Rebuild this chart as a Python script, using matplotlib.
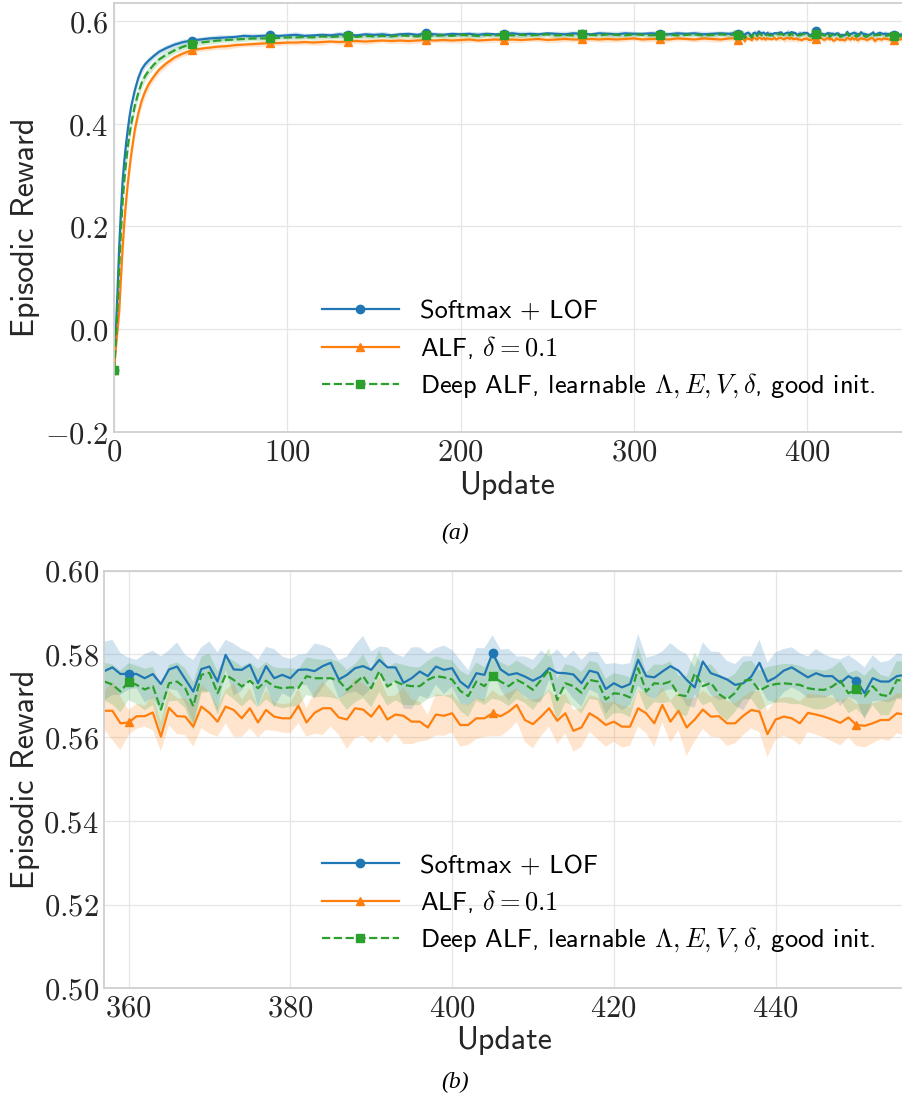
import numpy as np
import matplotlib.pyplot as plt

plt.rcParams['mathtext.fontset'] = 'cm'
plt.rcParams['axes.unicode_minus'] = True

# ---- data ----
# coarse readings for the rise + plateau, then every update in the zoomed window
early_updates = [0, 1, 2, 3, 4, 5, 6, 7, 8, 9, 10, 12, 14, 16, 18, 20, 23, 26, 30, 35, 40, 45,
                 50, 55, 60, 65, 70, 75, 80, 85, 90, 95, 100, 105, 110, 115, 120, 125, 130, 135,
                 140, 145, 150, 155, 160, 165, 170, 175, 180, 185, 190, 195, 200, 205, 210, 215,
                 220, 225, 230, 235, 240, 245, 250, 255, 260, 265, 270, 275, 280, 285, 290, 295,
                 300, 305, 310, 315, 320, 325, 330, 335, 340, 345, 350, 355]

softmax_early = [-0.080, -0.010, 0.070, 0.160, 0.230, 0.290, 0.330, 0.362, 0.390, 0.415, 0.435,
                 0.465, 0.489, 0.506, 0.516, 0.523, 0.532, 0.540, 0.547, 0.554, 0.559, 0.562,
                 0.564, 0.566, 0.567, 0.568, 0.569, 0.571, 0.570, 0.571, 0.572, 0.571,
                 0.572, 0.573, 0.571, 0.572, 0.573, 0.572, 0.574, 0.573, 0.572, 0.574,
                 0.573, 0.574, 0.572, 0.574, 0.575, 0.573, 0.576, 0.574, 0.573, 0.575,
                 0.574, 0.575, 0.573, 0.575, 0.574, 0.575, 0.576, 0.574, 0.575, 0.574,
                 0.576, 0.575, 0.574, 0.576, 0.575, 0.574, 0.576, 0.575, 0.574, 0.576,
                 0.575, 0.575, 0.576, 0.575, 0.574, 0.576, 0.575, 0.576, 0.574, 0.575,
                 0.576, 0.575]
alf_early = [-0.080, -0.040, 0.000, 0.035, 0.100, 0.160, 0.210, 0.250, 0.285, 0.315, 0.342,
             0.388, 0.420, 0.445, 0.463, 0.477, 0.492, 0.505, 0.517, 0.529, 0.537, 0.543,
             0.546, 0.548, 0.550, 0.551, 0.553, 0.554, 0.555, 0.556, 0.557, 0.557,
             0.558, 0.558, 0.559, 0.558, 0.559, 0.560, 0.559, 0.560, 0.561, 0.560,
             0.561, 0.562, 0.561, 0.562, 0.561, 0.562, 0.563, 0.562, 0.563, 0.562,
             0.563, 0.564, 0.562, 0.563, 0.564, 0.563, 0.564, 0.563, 0.564, 0.565,
             0.563, 0.564, 0.565, 0.564, 0.564, 0.565, 0.564, 0.565, 0.564, 0.565,
             0.566, 0.564, 0.565, 0.565, 0.564, 0.566, 0.565, 0.564, 0.566, 0.565,
             0.564, 0.566]
deep_early = [-0.080, -0.025, 0.040, 0.120, 0.190, 0.250, 0.292, 0.327, 0.356, 0.381, 0.401,
              0.435, 0.460, 0.480, 0.493, 0.503, 0.515, 0.525, 0.534, 0.543, 0.550, 0.555,
              0.558, 0.560, 0.562, 0.563, 0.564, 0.565, 0.566, 0.566, 0.566, 0.567,
              0.568, 0.568, 0.569, 0.568, 0.570, 0.569, 0.570, 0.570, 0.569, 0.571,
              0.570, 0.571, 0.570, 0.572, 0.571, 0.570, 0.572, 0.571, 0.572, 0.571,
              0.573, 0.572, 0.571, 0.573, 0.572, 0.573, 0.572, 0.573, 0.572, 0.573,
              0.574, 0.572, 0.573, 0.572, 0.574, 0.573, 0.572, 0.574, 0.573, 0.572,
              0.574, 0.573, 0.572, 0.573, 0.574, 0.572, 0.573, 0.574, 0.572, 0.573,
              0.574, 0.573]

softmax_early_err = [0.000, 0.020, 0.025, 0.025, 0.022, 0.020, 0.018, 0.016, 0.014, 0.012, 0.011,
                     0.010, 0.009, 0.008, 0.007, 0.007, 0.006, 0.006, 0.006, 0.006, 0.006, 0.005,
                     0.005, 0.005, 0.006, 0.005, 0.004, 0.005, 0.006, 0.005, 0.005, 0.004,
                     0.005, 0.006, 0.005, 0.004, 0.005, 0.005, 0.006, 0.005, 0.004, 0.005,
                     0.005, 0.006, 0.005, 0.005, 0.004, 0.005, 0.006, 0.005, 0.005, 0.004,
                     0.005, 0.005, 0.006, 0.005, 0.004, 0.005, 0.005, 0.006, 0.005, 0.005,
                     0.004, 0.005, 0.006, 0.005, 0.005, 0.004, 0.005, 0.005, 0.006, 0.005,
                     0.005, 0.004, 0.005, 0.006, 0.005, 0.005, 0.004, 0.005, 0.006, 0.005,
                     0.005, 0.005]
alf_early_err = [0.000, 0.015, 0.020, 0.024, 0.025, 0.024, 0.022, 0.020, 0.018, 0.016, 0.015,
                 0.013, 0.012, 0.011, 0.010, 0.009, 0.008, 0.007, 0.007, 0.006, 0.006, 0.006,
                 0.005, 0.005, 0.005, 0.006, 0.005, 0.004, 0.005, 0.005, 0.006, 0.005,
                 0.004, 0.005, 0.005, 0.005, 0.006, 0.004, 0.005, 0.005, 0.005, 0.006,
                 0.005, 0.004, 0.005, 0.005, 0.006, 0.005, 0.005, 0.004, 0.005, 0.005,
                 0.006, 0.005, 0.004, 0.005, 0.005, 0.005, 0.006, 0.005, 0.004, 0.005,
                 0.005, 0.006, 0.005, 0.005, 0.004, 0.005, 0.005, 0.006, 0.005, 0.005,
                 0.004, 0.005, 0.005, 0.006, 0.005, 0.005, 0.004, 0.005, 0.005, 0.006,
                 0.005, 0.005]
deep_early_err = [0.000, 0.018, 0.022, 0.024, 0.022, 0.020, 0.018, 0.016, 0.015, 0.014, 0.013,
                  0.012, 0.011, 0.010, 0.009, 0.008, 0.008, 0.007, 0.007, 0.006, 0.006, 0.006,
                  0.005, 0.005, 0.005, 0.004, 0.005, 0.005, 0.004, 0.005, 0.005, 0.004,
                  0.005, 0.005, 0.004, 0.005, 0.005, 0.004, 0.005, 0.005, 0.004, 0.005,
                  0.005, 0.004, 0.005, 0.005, 0.004, 0.005, 0.005, 0.004, 0.005, 0.005,
                  0.004, 0.005, 0.005, 0.004, 0.005, 0.005, 0.004, 0.005, 0.005, 0.004,
                  0.005, 0.005, 0.004, 0.005, 0.005, 0.004, 0.005, 0.005, 0.004, 0.005,
                  0.005, 0.004, 0.005, 0.005, 0.004, 0.005, 0.005, 0.004, 0.005, 0.005,
                  0.004, 0.005]

late_updates = list(range(357, 457))

softmax_late = [0.5759, 0.5768, 0.5752, 0.5753, 0.5752, 0.5742, 0.5752, 0.5728, 0.5763, 0.5770,
                0.5740, 0.5710, 0.5764, 0.5770, 0.5734, 0.5798, 0.5763, 0.5762, 0.5774, 0.5730,
                0.5771, 0.5742, 0.5750, 0.5742, 0.5762, 0.5763, 0.5759, 0.5771, 0.5779, 0.5739,
                0.5750, 0.5766, 0.5771, 0.5762, 0.5786, 0.5768, 0.5768, 0.5731, 0.5742, 0.5758,
                0.5747, 0.5770, 0.5762, 0.5766, 0.5734, 0.5719, 0.5754, 0.5750, 0.5803, 0.5763,
                0.5750, 0.5754, 0.5746, 0.5736, 0.5746, 0.5766, 0.5755, 0.5754, 0.5751, 0.5730,
                0.5760, 0.5755, 0.5716, 0.5730, 0.5720, 0.5728, 0.5786, 0.5747, 0.5744, 0.5758,
                0.5771, 0.5760, 0.5738, 0.5720, 0.5782, 0.5754, 0.5747, 0.5739, 0.5726, 0.5730,
                0.5746, 0.5779, 0.5734, 0.5744, 0.5760, 0.5768, 0.5756, 0.5744, 0.5754, 0.5747,
                0.5747, 0.5731, 0.5747, 0.5736, 0.5706, 0.5742, 0.5734, 0.5734, 0.5747, 0.5750]
alf_late = [0.5664, 0.5664, 0.5634, 0.5636, 0.5651, 0.5651, 0.5660, 0.5602, 0.5671, 0.5651,
            0.5650, 0.5626, 0.5674, 0.5659, 0.5638, 0.5674, 0.5666, 0.5646, 0.5670, 0.5636,
            0.5666, 0.5650, 0.5646, 0.5646, 0.5676, 0.5636, 0.5659, 0.5670, 0.5670, 0.5648,
            0.5643, 0.5670, 0.5667, 0.5650, 0.5676, 0.5643, 0.5655, 0.5652, 0.5638, 0.5638,
            0.5624, 0.5655, 0.5652, 0.5658, 0.5630, 0.5630, 0.5646, 0.5646, 0.5658, 0.5651,
            0.5662, 0.5678, 0.5642, 0.5632, 0.5650, 0.5670, 0.5640, 0.5658, 0.5616, 0.5624,
            0.5658, 0.5646, 0.5630, 0.5638, 0.5626, 0.5626, 0.5670, 0.5658, 0.5634, 0.5678,
            0.5638, 0.5664, 0.5624, 0.5643, 0.5667, 0.5650, 0.5651, 0.5634, 0.5634, 0.5652,
            0.5666, 0.5662, 0.5608, 0.5643, 0.5650, 0.5646, 0.5634, 0.5659, 0.5655, 0.5650,
            0.5643, 0.5635, 0.5648, 0.5630, 0.5628, 0.5634, 0.5642, 0.5642, 0.5658, 0.5655]
deep_late = [0.5734, 0.5727, 0.5710, 0.5734, 0.5726, 0.5715, 0.5723, 0.5667, 0.5730, 0.5734,
             0.5718, 0.5675, 0.5750, 0.5755, 0.5706, 0.5750, 0.5738, 0.5722, 0.5736, 0.5718,
             0.5736, 0.5722, 0.5718, 0.5720, 0.5719, 0.5747, 0.5742, 0.5742, 0.5742, 0.5736,
             0.5714, 0.5730, 0.5747, 0.5718, 0.5759, 0.5722, 0.5734, 0.5726, 0.5723, 0.5723,
             0.5738, 0.5747, 0.5744, 0.5739, 0.5712, 0.5699, 0.5734, 0.5723, 0.5747, 0.5734,
             0.5723, 0.5738, 0.5728, 0.5714, 0.5738, 0.5762, 0.5690, 0.5730, 0.5723, 0.5707,
             0.5738, 0.5734, 0.5691, 0.5706, 0.5704, 0.5696, 0.5766, 0.5710, 0.5730, 0.5728,
             0.5734, 0.5702, 0.5699, 0.5754, 0.5723, 0.5731, 0.5704, 0.5691, 0.5707, 0.5736,
             0.5738, 0.5712, 0.5723, 0.5728, 0.5730, 0.5728, 0.5726, 0.5718, 0.5715, 0.5714,
             0.5722, 0.5736, 0.5706, 0.5715, 0.5698, 0.5723, 0.5702, 0.5699, 0.5738, 0.5735]

softmax_late_err = [0.0070, 0.0066, 0.0050, 0.0038, 0.0034, 0.0058, 0.0056, 0.0066, 0.0046, 0.0058,
                    0.0058, 0.0076, 0.0052, 0.0060, 0.0070, 0.0036, 0.0062, 0.0050, 0.0030, 0.0056,
                    0.0046, 0.0070, 0.0044, 0.0046, 0.0036, 0.0038, 0.0066, 0.0050, 0.0034, 0.0046,
                    0.0044, 0.0056, 0.0072, 0.0044, 0.0032, 0.0048, 0.0031, 0.0062, 0.0074, 0.0058,
                    0.0054, 0.0044, 0.0058, 0.0044, 0.0052, 0.0042, 0.0060, 0.0064, 0.0042, 0.0048,
                    0.0062, 0.0040, 0.0048, 0.0050, 0.0062, 0.0028, 0.0056, 0.0036, 0.0058, 0.0056,
                    0.0045, 0.0050, 0.0060, 0.0048, 0.0055, 0.0050, 0.0062, 0.0045, 0.0052, 0.0048,
                    0.0055, 0.0050, 0.0062, 0.0048, 0.0046, 0.0052, 0.0058, 0.0044, 0.0050, 0.0065,
                    0.0048, 0.0055, 0.0045, 0.0060, 0.0052, 0.0048, 0.0046, 0.0050, 0.0058, 0.0052,
                    0.0044, 0.0056, 0.0050, 0.0048, 0.0062, 0.0055, 0.0046, 0.0050, 0.0054, 0.0050]
alf_late_err = [0.0046, 0.0070, 0.0064, 0.0030, 0.0030, 0.0025, 0.0042, 0.0035, 0.0042, 0.0043,
                0.0044, 0.0048, 0.0052, 0.0050, 0.0036, 0.0040, 0.0064, 0.0044, 0.0048, 0.0036,
                0.0048, 0.0034, 0.0034, 0.0036, 0.0042, 0.0034, 0.0050, 0.0064, 0.0044, 0.0042,
                0.0070, 0.0072, 0.0062, 0.0064, 0.0070, 0.0056, 0.0046, 0.0068, 0.0054, 0.0048,
                0.0030, 0.0050, 0.0048, 0.0046, 0.0052, 0.0048, 0.0050, 0.0044, 0.0055, 0.0048,
                0.0045, 0.0040, 0.0052, 0.0058, 0.0046, 0.0044, 0.0055, 0.0048, 0.0050, 0.0046,
                0.0044, 0.0050, 0.0052, 0.0048, 0.0050, 0.0046, 0.0044, 0.0048, 0.0056, 0.0042,
                0.0050, 0.0046, 0.0068, 0.0052, 0.0046, 0.0048, 0.0050, 0.0054, 0.0048, 0.0046,
                0.0044, 0.0050, 0.0055, 0.0048, 0.0046, 0.0050, 0.0052, 0.0046, 0.0048, 0.0050,
                0.0052, 0.0054, 0.0048, 0.0050, 0.0052, 0.0048, 0.0046, 0.0050, 0.0048, 0.0050]
deep_late_err = [0.0045, 0.0048, 0.0050, 0.0044, 0.0046, 0.0050, 0.0046, 0.0055, 0.0044, 0.0046,
                 0.0048, 0.0058, 0.0044, 0.0046, 0.0052, 0.0044, 0.0046, 0.0048, 0.0044, 0.0046,
                 0.0045, 0.0046, 0.0048, 0.0046, 0.0044, 0.0045, 0.0046, 0.0044, 0.0046, 0.0045,
                 0.0048, 0.0046, 0.0052, 0.0046, 0.0050, 0.0046, 0.0045, 0.0048, 0.0046, 0.0045,
                 0.0046, 0.0048, 0.0044, 0.0046, 0.0048, 0.0050, 0.0046, 0.0045, 0.0054, 0.0046,
                 0.0048, 0.0046, 0.0045, 0.0048, 0.0046, 0.0052, 0.0050, 0.0046, 0.0048, 0.0050,
                 0.0046, 0.0045, 0.0050, 0.0048, 0.0046, 0.0048, 0.0052, 0.0046, 0.0045, 0.0046,
                 0.0048, 0.0046, 0.0048, 0.0050, 0.0046, 0.0045, 0.0048, 0.0050, 0.0046, 0.0045,
                 0.0046, 0.0048, 0.0046, 0.0045, 0.0046, 0.0048, 0.0046, 0.0045, 0.0048, 0.0046,
                 0.0045, 0.0046, 0.0048, 0.0046, 0.0050, 0.0046, 0.0048, 0.0046, 0.0045, 0.0046]

labels = ['Softmax + LOF', r'ALF, $\delta=0.1$',
          r'Deep ALF, learnable $\Lambda, E, V, \delta$, good init.']
colors = ['#1f77b4', '#ff7f0e', '#2ca02c']
markers = ['o', '^', 's']
styles = ['-', '-', '--']

updates = np.array(early_updates + late_updates)
means = [np.array(softmax_early + softmax_late),
         np.array(alf_early + alf_late),
         np.array(deep_early + deep_late)]
errs = [np.array(softmax_early_err + softmax_late_err),
        np.array(alf_early_err + alf_late_err),
        np.array(deep_early_err + deep_late_err)]
mark_idx = [i for i, u in enumerate(updates) if u % 45 == 0]

SANS = ['cmss10', 'DejaVu Sans']
GRID = '#e6e6e6'
SPINE = '#cfcfcf'


def draw_panel(ax, xlim, ylim, xticks, yticks, ylab_fmt, legend_anchor, label_pos):
    for m, e, c, mk, ls, lab in zip(means, errs, colors, markers, styles, labels):
        ax.fill_between(updates, m - e, m + e, color=c, alpha=0.2, lw=0)
        ax.plot(updates, m, color=c, ls=ls, lw=1.6, marker=mk, ms=6,
                markevery=mark_idx, label=lab)
    ax.set_xlim(*xlim)
    ax.set_ylim(*ylim)
    ax.set_xticks(xticks)
    ax.set_xticklabels(['$%d$' % t for t in xticks])
    ax.set_yticks(yticks)
    ax.set_yticklabels([ylab_fmt % t for t in yticks])
    ax.tick_params(length=0, pad=4, labelsize=22, colors='#262626')
    ax.grid(True, color=GRID, lw=0.9)
    ax.set_axisbelow(True)
    for sp in ax.spines.values():
        sp.set_color(SPINE)
        sp.set_linewidth(1.3)
    ax.set_xlabel('Update', family=SANS, fontsize=23, color='#262626')
    ax.set_ylabel('Episodic Reward', family=SANS, fontsize=23, color='#262626')
    ax.xaxis.set_label_coords(label_pos[0], label_pos[1])
    ax.yaxis.set_label_coords(label_pos[2], label_pos[3])
    ax.legend(loc='center left', bbox_to_anchor=legend_anchor, frameon=False,
              borderpad=0, borderaxespad=0, handlelength=2.9, handletextpad=0.8,
              labelspacing=0.4, prop={'family': SANS, 'size': 19})


fig = plt.figure(figsize=(9.03, 11.06), dpi=100)
W, H = 903.0, 1106.0

ax1 = fig.add_axes([114 / W, 1 - 432 / H, (905 - 114) / W, (432 - 3) / H])
draw_panel(ax1, (0, 456.4), (-0.1955, 0.635), [0, 100, 200, 300, 400],
           [-0.2, 0.0, 0.2, 0.4, 0.6], '$%.1f$', (0.263, 0.191),
           (0.497, -0.090, -0.093, 0.478))

ax2 = fig.add_axes([104.3 / W, 1 - 988 / H, (905 - 104.3) / W, (988 - 570.5) / H])
draw_panel(ax2, (357.0, 456.0), (0.50, 0.60), [360, 380, 400, 420, 440],
           [0.50, 0.52, 0.54, 0.56, 0.58, 0.60], '$%.2f$', (0.272, 0.2005),
           (0.499, -0.090, -0.080, 0.5))

fig.text(455 / W, 1 - 533 / H, '(a)', family='Liberation Serif', style='italic',
         fontsize=17, ha='center', va='center')
fig.text(455 / W, 1 - 1082 / H, '(b)', family='Liberation Serif', style='italic',
         fontsize=17, ha='center', va='center')

fig.savefig('out.png', dpi=100)
